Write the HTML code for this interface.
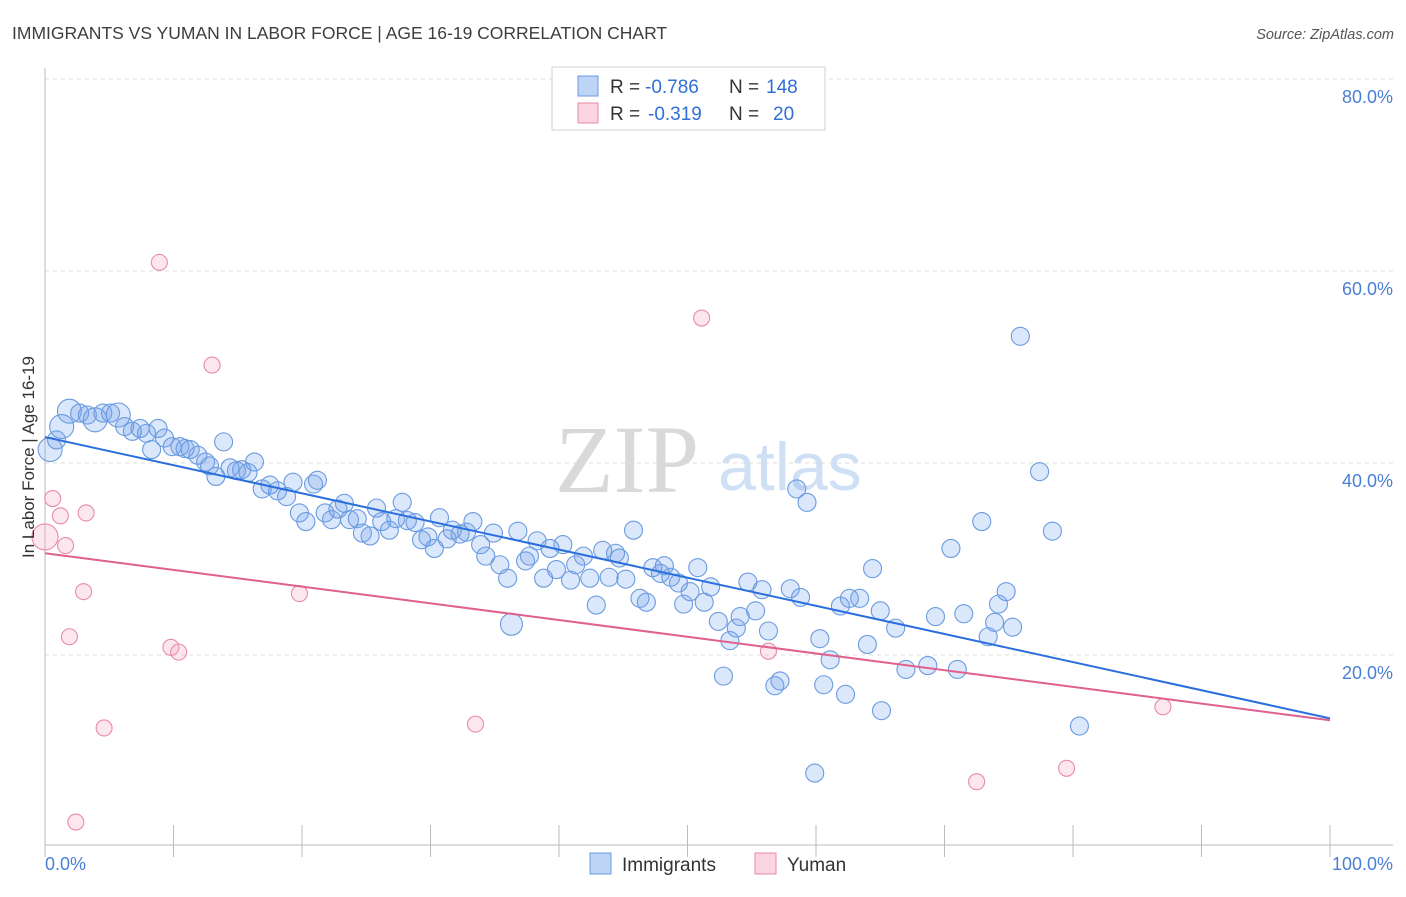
<!DOCTYPE html>
<html><head><meta charset="utf-8"><style>
body{margin:0;background:#fff;width:1406px;height:892px;overflow:hidden;font-family:"Liberation Sans",sans-serif}
</style></head><body>
<svg id="chart" width="1406" height="892" xmlns="http://www.w3.org/2000/svg" font-family="Liberation Sans, sans-serif">
<text x="12" y="39" font-size="17.5" fill="#3d3d3d">IMMIGRANTS VS YUMAN IN LABOR FORCE | AGE 16-19 CORRELATION CHART</text>
<text x="1394" y="39" font-size="14.5" fill="#555" font-style="italic" text-anchor="end">Source: ZipAtlas.com</text>
<g>
<text x="555" y="492" font-size="96" font-family="Liberation Serif, serif" fill="#d9d9d9">ZIP</text>
<text x="718" y="490" font-size="68" fill="#cfe0f5">atlas</text>
</g>
<g id="grid"></g>
<g id="axes"></g>
<g id="pts"></g>
<g id="lines"></g>
<text transform="translate(34,457) rotate(-90)" font-size="17" fill="#333" text-anchor="middle">In Labor Force | Age 16-19</text>
<g>
<rect x="552" y="67" width="273" height="63" fill="#fff" stroke="#d0d0d0"/>
<rect x="578" y="76" width="20" height="20" fill="rgba(110,160,235,0.45)" stroke="#6a9be0"/>
<rect x="578" y="103" width="20" height="20" fill="rgba(245,160,190,0.45)" stroke="#e88aaa"/>
<text x="610" y="93" font-size="19" fill="#333">R =</text>
<text x="645" y="93" font-size="19" fill="#2f6fd6">-0.786</text>
<text x="729" y="93" font-size="19" fill="#333">N =</text>
<text x="766" y="93" font-size="19" fill="#2f6fd6">148</text>
<text x="610" y="120" font-size="19" fill="#333">R =</text>
<text x="648" y="120" font-size="19" fill="#2f6fd6">-0.319</text>
<text x="729" y="120" font-size="19" fill="#333">N =</text>
<text x="773" y="120" font-size="19" fill="#2f6fd6">20</text>
</g>
<g>
<rect x="590" y="853" width="21" height="21" fill="rgba(110,160,235,0.45)" stroke="#6a9be0"/>
<text x="622" y="871" font-size="19" fill="#333">Immigrants</text>
</g>
<g>
<rect x="755" y="853" width="21" height="21" fill="rgba(245,160,190,0.45)" stroke="#e88aaa"/>
<text x="787" y="871" font-size="19" fill="#333">Yuman</text>
</g>
</svg>
<script>
const yTicks=[20,40,60,80];
const yTickLabels=["20.0%","40.0%","60.0%","80.0%"];
const xTicks=[0,10,20,30,40,50,60,70,80,90,100];
const blueX=[0.4,0.9,1.3,1.9,2.7,3.3,3.9,4.5,5.1,5.7,6.2,6.8,7.4,7.9,8.3,8.8,9.3,9.9,10.5,10.9,11.3,11.9,12.5,12.8,13.3,13.9,14.4,14.9,15.3,15.8,16.3,16.9,17.5,18.1,18.8,19.3,19.8,20.3,20.9,21.2,21.8,22.3,22.8,23.3,23.7,24.3,24.7,25.3,25.8,26.2,26.8,27.3,27.8,28.2,28.8,29.3,29.8,30.3,30.7,31.3,31.7,32.3,32.8,33.3,33.9,34.3,34.9,35.4,36.0,36.3,36.8,37.4,37.7,38.3,38.8,39.3,39.8,40.3,40.9,41.3,41.9,42.4,42.9,43.4,43.9,44.4,44.7,45.2,45.8,46.3,46.8,47.3,47.9,48.2,48.7,49.3,49.7,50.2,50.8,51.3,51.8,52.4,52.8,53.3,53.8,54.1,54.7,55.3,55.8,56.3,56.8,57.2,58.0,58.5,58.8,59.3,59.9,60.3,60.6,61.1,61.9,62.3,62.6,63.4,64.0,64.4,65.0,65.1,66.2,67.0,68.7,69.3,70.5,71.0,71.5,72.9,73.4,73.9,74.2,74.8,75.3,75.9,77.4,78.4,80.5];
const blueY=[41.4,42.4,43.8,45.4,45.2,45.0,44.5,45.2,45.2,45.0,43.8,43.3,43.6,43.1,41.4,43.6,42.6,41.7,41.7,41.5,41.4,40.8,40.1,39.7,38.6,42.2,39.5,39.2,39.3,39.0,40.1,37.3,37.7,37.1,36.5,38.0,34.8,33.9,37.8,38.2,34.8,34.1,35.2,35.8,34.1,34.2,32.7,32.4,35.3,33.9,33.0,34.2,35.9,34.0,33.8,32.0,32.3,31.1,34.3,32.1,33.0,32.6,32.8,33.9,31.5,30.3,32.7,29.4,28.0,23.2,32.9,29.8,30.3,31.9,28.0,31.1,28.9,31.5,27.8,29.4,30.3,28.0,25.2,30.9,28.1,30.6,30.1,27.9,33.0,25.9,25.5,29.1,28.5,29.3,28.1,27.5,25.3,26.6,29.1,25.5,27.1,23.5,17.8,21.5,22.8,24.0,27.6,24.6,26.8,22.5,16.8,17.3,26.9,37.3,26.0,35.9,7.7,21.7,16.9,19.5,25.1,15.9,25.9,25.9,21.1,29.0,24.6,14.2,22.8,18.5,18.9,24.0,31.1,18.5,24.3,33.9,21.9,23.4,25.3,26.6,22.9,53.2,39.1,32.9,12.6];
const blueSize=[3,2,3,3,2,2,3,2,2,3,2,2,2,2,2,2,2,2,2,2,2,2,2,2,2,2,2,2,2,2,2,2,2,2,2,2];
const pinkX=[0.0,0.6,1.2,1.6,3.0,3.2,1.9,4.6,2.4,8.9,9.8,10.4,13.0,19.8,33.5,51.1,56.3,72.5,79.5,87.0];
const pinkY=[32.3,36.3,34.5,31.4,26.6,34.8,21.9,12.4,2.6,60.9,20.8,20.3,50.2,26.4,12.8,55.1,20.4,6.8,8.2,14.6];
const blueTrend=[42.7,13.4];
const pinkTrend=[30.6,13.2];
const NS="http://www.w3.org/2000/svg";
const X=v=>45+v*12.85, Y=v=>847-v*9.6;
function mk(t,a,p){const e=document.createElementNS(NS,t);for(const k in a)e.setAttribute(k,a[k]);p.appendChild(e);return e;}
const grid=document.getElementById('grid'),axes=document.getElementById('axes');
yTicks.forEach((t,i)=>{
 const l=mk('line',{x1:45,x2:1393,y1:Y(t),y2:Y(t),stroke:'#dcdcdc','stroke-dasharray':'4,4'},grid);
 
 
 const tx=mk('text',{x:1393,y:Y(t)+24,'font-size':18,fill:'#4a7fd6','text-anchor':'end'},axes);
 tx.textContent=yTickLabels[i];
 
 
});
mk('line',{x1:45,x2:45,y1:68,y2:845,stroke:'#bbb'},axes);
mk('line',{x1:45,x2:1393,y1:845,y2:845,stroke:'#bbb'},axes);
xTicks.forEach(t=>{const l=mk('line',{x1:X(t),x2:X(t),y1:825,y2:857,stroke:'#bbb'},axes);
 
 });
const x0=mk('text',{x:45,y:870,'font-size':18,fill:'#4a7fd6'},axes);x0.textContent='0.0%';


const x1=mk('text',{x:1393,y:870,'font-size':18,fill:'#4a7fd6','text-anchor':'end'},axes);x1.textContent='100.0%';


const pts=document.getElementById('pts');
blueX.forEach((v,i)=>{const s=blueSize[i]||2;const r=s===3?12:(i===69?11:9);
 const c=mk('circle',{cx:X(v),cy:Y(blueY[i]),r:r,fill:'rgba(110,160,235,0.25)',stroke:'#6a9be0','stroke-width':1.1},pts);
 
 });
pinkX.forEach((v,i)=>{const r=i===0?13:8;
 const c=mk('circle',{cx:X(v),cy:Y(pinkY[i]),r:r,fill:'rgba(245,160,190,0.25)',stroke:'#e88aaa','stroke-width':1.1},pts);
 
 });
const lines=document.getElementById('lines');
const bl=mk('line',{x1:X(0),y1:Y(blueTrend[0]),x2:X(100),y2:Y(blueTrend[1]),stroke:'#2a6fdb','stroke-width':2},lines);


const pl=mk('line',{x1:X(0),y1:Y(pinkTrend[0]),x2:X(100),y2:Y(pinkTrend[1]),stroke:'#e0608f','stroke-width':2},lines);


</script>
</body></html>
